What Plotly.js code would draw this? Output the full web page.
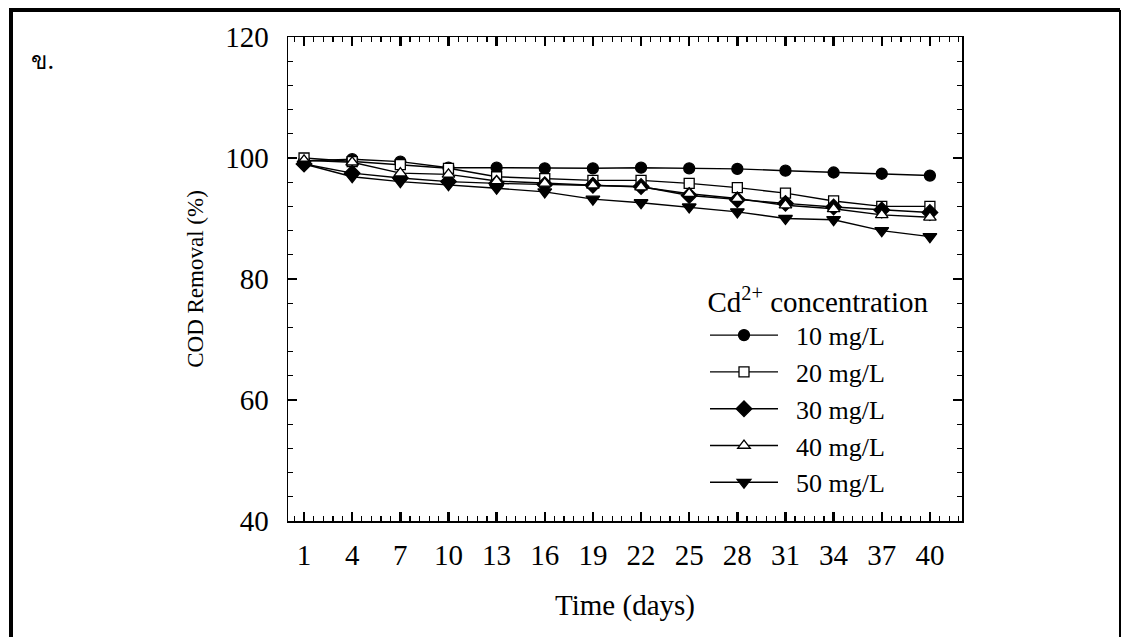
<!DOCTYPE html>
<html>
<head>
<meta charset="utf-8">
<script src="https://cdn.plot.ly/plotly-3.0.1.min.js"></script>
<style>
html,body{margin:0;padding:0;background:#fff;}
#chart{width:1121px;height:637px;}
</style>
</head>
<body>
<div id="chart"></div>
<script>
// Data
const days = [1, 4, 7, 10, 13, 16, 19, 22, 25, 28, 31, 34, 37, 40];
const cd10 = [99.5, 99.8, 99.4, 98.4, 98.4, 98.3, 98.3, 98.4, 98.3, 98.2, 97.9, 97.6, 97.4, 97.1];
const cd20 = [100.0, 99.4, 98.9, 98.3, 96.9, 96.6, 96.3, 96.3, 95.8, 95.1, 94.2, 92.9, 92.0, 92.0];
const cd30 = [99.0, 97.5, 96.7, 96.1, 95.8, 95.6, 95.5, 95.3, 93.8, 93.1, 92.5, 91.9, 91.4, 91.0];
const cd40 = [99.6, 99.3, 97.5, 97.3, 96.2, 95.8, 95.5, 95.2, 94.1, 93.3, 92.2, 91.6, 90.6, 90.2];
const cd50 = [99.0, 96.9, 96.1, 95.6, 95.0, 94.4, 93.2, 92.6, 91.9, 91.1, 90.0, 89.8, 88.0, 87.0];
const seriesNames = ["10 mg/L", "20 mg/L", "30 mg/L", "40 mg/L", "50 mg/L"];
const xTickVals = [1, 4, 7, 10, 13, 16, 19, 22, 25, 28, 31, 34, 37, 40];
const yTickVals = [40, 60, 80, 100, 120];
const panelLabel = "ข.";

const serif = "Liberation Serif, Times New Roman, serif";
const symbols = ["circle", "square", "diamond", "triangle-up", "triangle-down"];
const filled = [true, false, true, false, true];
const sizes = [11, 10, 12, 11, 12];
const allY = [cd10, cd20, cd30, cd40, cd50];
const pad = "\u00a0\u00a0";

const traces = allY.map((y, i) => ({
  x: days, y: y, name: pad + seriesNames[i], type: "scatter", mode: "lines+markers",
  line: {color: "#000", width: 1.4},
  marker: {symbol: symbols[i], size: sizes[i], color: filled[i] ? "#000" : "#fff",
           line: {color: "#000", width: 1.3}}
}));

// minor tick positions
const xMinor = [];
for (let k = 0; k <= 70; k++) { const v = 0.4 + k * 0.6; if (v < 42) xMinor.push(+v.toFixed(2)); }
const yMinor = [];
for (let v = 40; v <= 120; v += 4) yMinor.push(v);

// frame coordinates in paper space
const L = 288, R = 962, T = 37, B = 521;
const px = v => (v - L) / (R - L);
const py = v => (B - v) / (B - T);

const layout = {
  width: 1121, height: 637,
  margin: {l: L, r: 1121 - R, t: T, b: 637 - B},
  paper_bgcolor: "#fff", plot_bgcolor: "#fff",
  font: {family: serif, color: "#000", size: 28},
  showlegend: true,
  legend: {
    x: px(705), y: py(274), xanchor: "left", yanchor: "top",
    bgcolor: "rgba(0,0,0,0)", borderwidth: 0,
    font: {family: serif, size: 26, color: "#000"},
    title: {text: "Cd<sup>2+</sup> concentration", side: "top center", font: {family: serif, size: 29}},
    tracegroupgap: 0, itemwidth: 68
  },
  xaxis: {
    range: [0, 42], tickmode: "array", tickvals: xTickVals, ticktext: xTickVals.map(String),
    ticks: "inside", ticklen: 9, tickwidth: 2.5, tickcolor: "#000",
    minor: {tickmode: "array", tickvals: xMinor, ticks: "inside", ticklen: 5, tickwidth: 1.2, tickcolor: "#000"},
    showline: true, linecolor: "#000", linewidth: 1.5, mirror: "ticks",
    showgrid: false, zeroline: false,
    tickfont: {family: serif, size: 29}, ticklabelstandoff: 8,
    title: {text: "Time (days)", font: {family: serif, size: 29}, standoff: 24}
  },
  yaxis: {
    range: [40, 120], tickmode: "array", tickvals: yTickVals,
    ticks: "inside", ticklen: 9, tickwidth: 2.5, tickcolor: "#000",
    minor: {tickmode: "array", tickvals: yMinor, ticks: "inside", ticklen: 5, tickwidth: 1.2, tickcolor: "#000"},
    showline: true, linecolor: "#000", linewidth: 1.5, mirror: "ticks",
    showgrid: false, zeroline: false,
    tickfont: {family: serif, size: 29}, ticklabelstandoff: 12,
    title: {text: "COD Removal (%)", font: {family: serif, size: 23}, standoff: 15}
  },
  shapes: [{
    type: "path", xref: "paper", yref: "paper",
    path: `M ${px(11)} ${py(660)} L ${px(11)} ${py(10)} L ${px(1120)} ${py(10)}`,
    line: {color: "#000", width: 4}
  }, {
    type: "line", xref: "paper", yref: "paper",
    x0: px(1120), x1: px(1120), y0: py(10), y1: py(660),
    line: {color: "#000", width: 2}
  }],
  annotations: [{
    text: panelLabel, xref: "paper", yref: "paper", x: px(29), y: py(61),
    xanchor: "left", yanchor: "middle", showarrow: false,
    font: {family: "DejaVu Serif, Noto Sans, DejaVu Sans, serif", size: 24, color: "#000"}
  }]
};

Plotly.newPlot("chart", traces, layout, {staticPlot: true, displayModeBar: false});
</script>
</body>
</html>
